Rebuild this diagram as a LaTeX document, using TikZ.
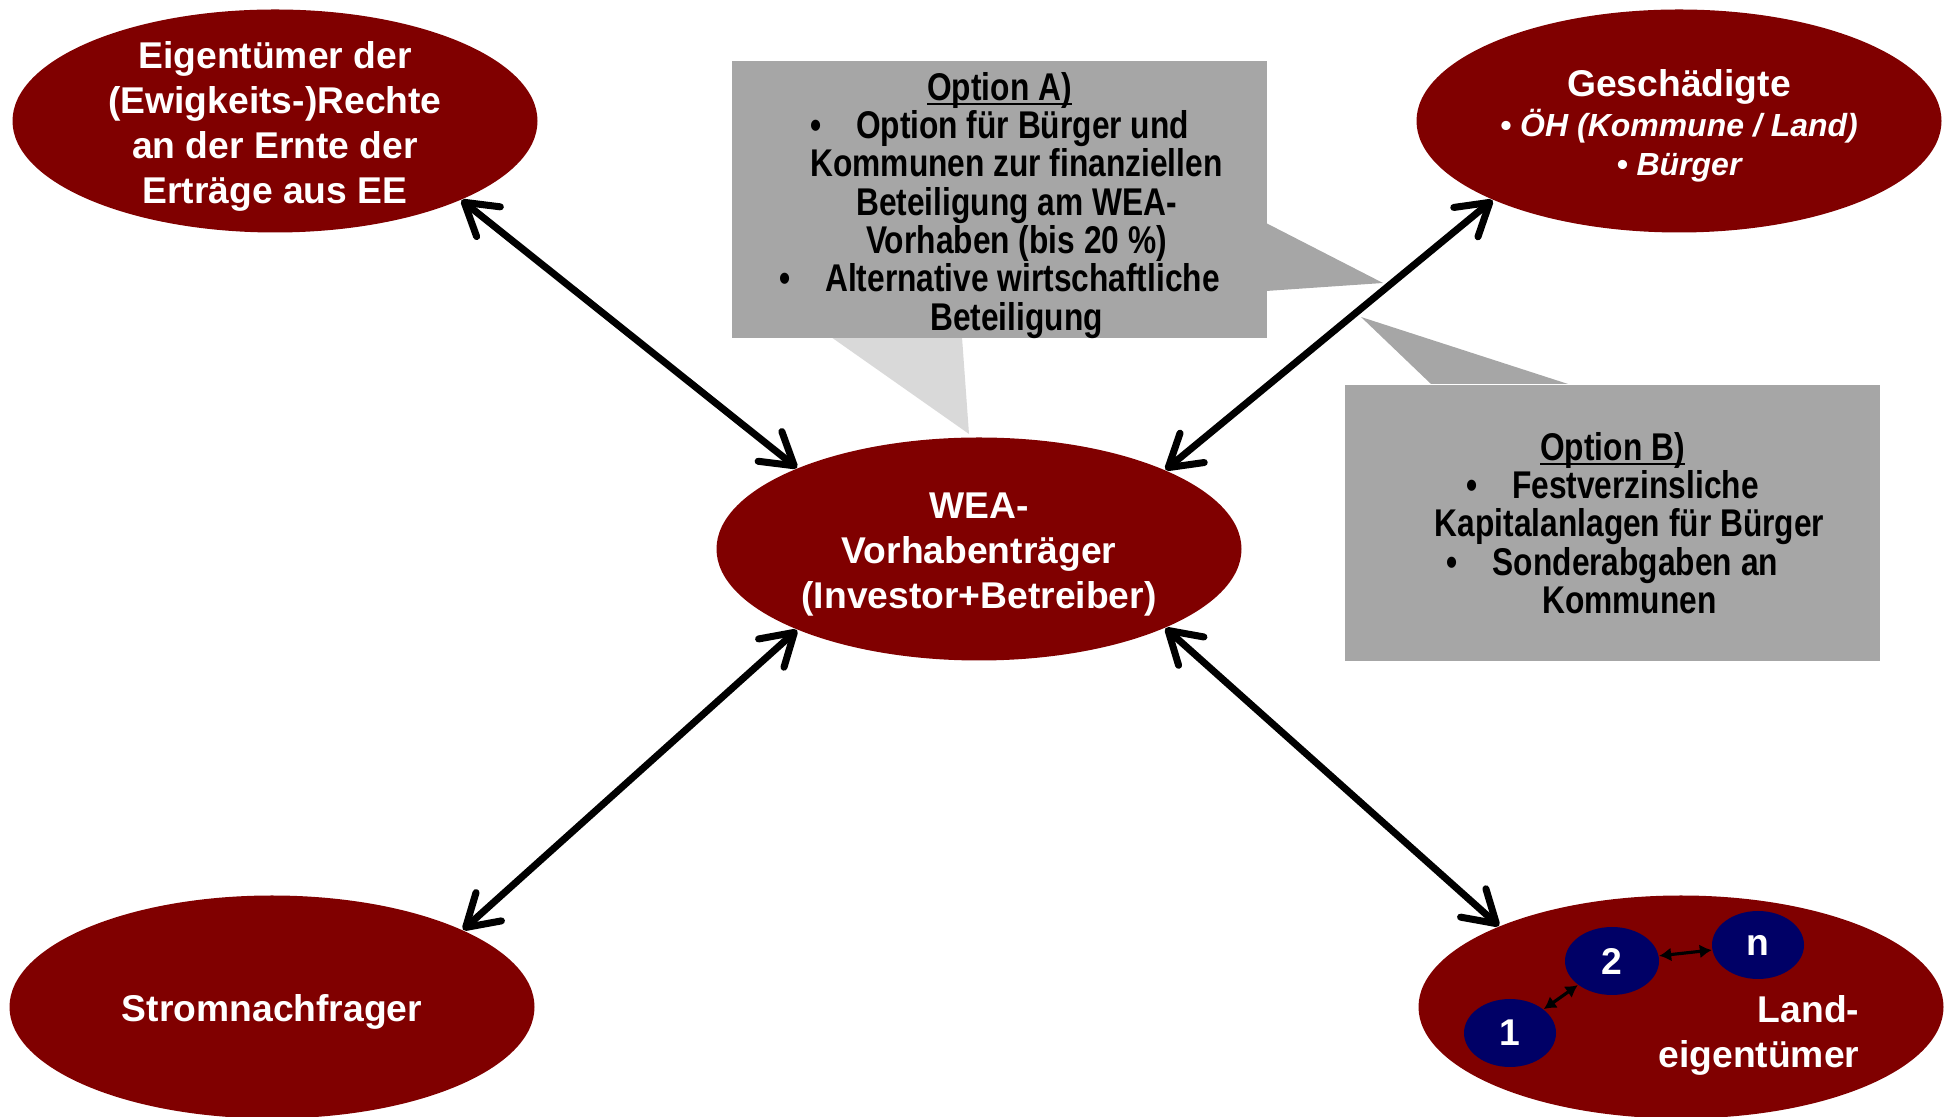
\documentclass[tikz,border=0pt]{standalone}
\usepackage{fontspec}
\setmainfont{Liberation Sans}
\newfontfamily\narrowfont{Liberation Sans}[FakeStretch=0.82, UprightFont={* Bold}, BoldFont={* Bold}]
\usetikzlibrary{shapes,arrows.meta,positioning,calc}
\definecolor{darkred}{HTML}{800000}
\definecolor{navyblue}{HTML}{000066}
\definecolor{boxgray}{HTML}{A6A6A6}
\definecolor{tailgray}{HTML}{D9D9D9}
\newsavebox{\headbox}
\newcommand{\hang}{\hspace*{0.34cm}}
\newcommand{\topstrut}{\rule{0pt}{10.6pt}}
\newcommand{\heading}[1]{\sbox{\headbox}{#1}\rlap{\rule[-1.5pt]{\wd\headbox}{0.75pt}}\usebox{\headbox}}
\tikzset{
actor/.style = {fill=darkred, ellipse, minimum width=5.25cm, minimum height=2.23cm, inner xsep=0pt, inner ysep=-8pt, align=center, text=white, font=\fontsize{10.6}{12.8}\selectfont\bfseries},
owner/.style = {fill=navyblue, ellipse, minimum width=0.92cm, minimum height=0.68cm, inner sep=0pt, text=white, font=\fontsize{10.6}{12.8}\selectfont\bfseries},
callout/.style = {fill=boxgray, rectangle, minimum width=5.35cm, minimum height=2.75cm, inner sep=0pt, align=center, font=\narrowfont\bfseries\fontsize{11}{10.9}\selectfont},
link/.style = {<->, line width=2pt, >={Straight Barb[length=0.31cm,width=0.38cm,line cap=round,line join=round]}},
sublink/.style = {<->, line width=0.9pt, >={Latex[length=0.12cm,width=0.14cm]}}
}

\begin{document}
\begin{tikzpicture}
    \useasboundingbox (0,0) rectangle (19.51,11.17);

    \fill[tailgray] (8.31,7.80) -- (9.62,7.80) -- (9.69,6.83) -- cycle;
    \fill[boxgray] (12.66,8.94) -- (13.83,8.34) -- (12.66,8.26) -- cycle;
    \fill[boxgray] (14.31,7.33) -- (13.61,8.00) -- (15.68,7.33) -- cycle;

    \node[callout] (optA) at (9.995,9.175) {\rule{0pt}{11.2pt}\heading{Option A)}\\
        \textbullet\hspace{0.9em}Option für Bürger und\\
        \hang Kommunen zur finanziellen\\
        \hang Beteiligung am WEA-\\
        \hang Vorhaben (bis 20~\%)\\
        \textbullet\hspace{0.9em}Alternative wirtschaftliche\\
        \hang Beteiligung};
    \node[callout, minimum height=2.76cm] (optB) at (16.125,5.94) {\heading{Option B)}\\
        \textbullet\hspace{0.9em}Festverzinsliche\\
        \hang Kapitalanlagen für Bürger\\
        \textbullet\hspace{0.9em}Sonderabgaben an\\
        \hang Kommunen};

    \node[actor] (tl) at (2.75,9.96) {\topstrut Eigentümer der\\(Ewigkeits-)Rechte\\an der Ernte der\\Erträge aus EE};
    \node[actor] (tr) at (16.79,9.96) {\topstrut Geschädigte\\[-1.6pt]
        {\fontsize{9.1}{11}\selectfont\itshape\textbullet\ ÖH (Kommune / Land)}\\[-1.5pt]
        {\fontsize{9.1}{11}\selectfont\itshape\textbullet\ Bürger}};
    \node[actor] (wea) at (9.79,5.68) {\topstrut WEA-\\Vorhabenträger\\(Investor+Betreiber)};
    \node[actor] (bl) at (2.72,1.10) {\topstrut Stromnachfrager};
    \node[actor] (br) at (16.81,1.10) {};

    \node[owner] (e1) at (15.10,0.84) {1};
    \node[owner, minimum width=0.94cm] (e2) at (16.12,1.56) {2};
    \node[owner] (en) at (17.58,1.72) {n};
    \node[anchor=east, inner sep=0pt, align=right, text=white, font=\fontsize{10.6}{12.8}\selectfont\bfseries] (land) at (18.60,0.82) {Land-\\eigentümer};

    \draw[sublink] (e1) -- (e2);
    \draw[sublink] (e2) -- (en);

    \draw[link] (tl.-23.5) -- (wea.156.7);
    \draw[link] (tr.-157.2) -- (wea.23.2);
    \draw[link] (wea.-156.4) -- (bl.22.8);
    \draw[link] (wea.-23.5) -- (br.156.8);
\end{tikzpicture}
\end{document}
